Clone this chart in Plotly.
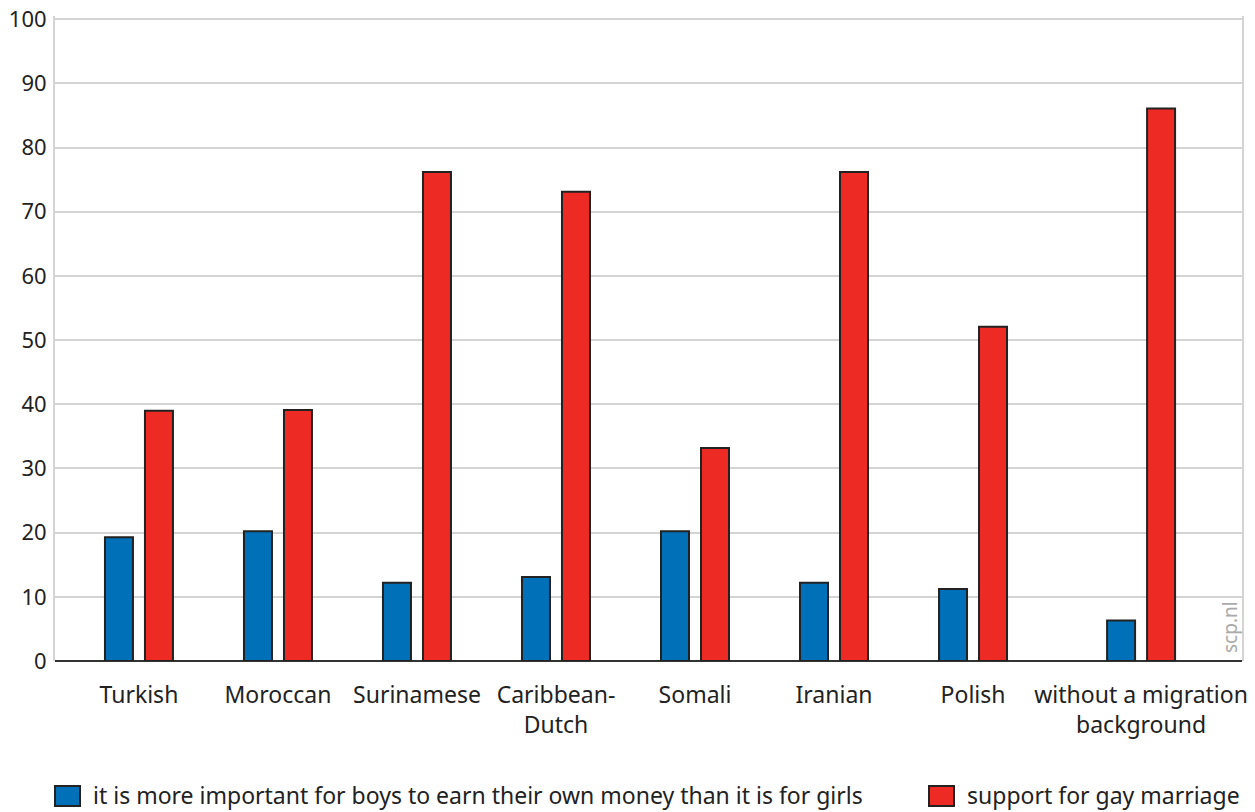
import plotly.graph_objects as go

categories = ["Turkish", "Moroccan", "Surinamese", "Caribbean-<br>Dutch", "Somali",
              "Iranian", "Polish", "without a migration<br>background"]
boys_money = [19.3, 20.2, 12.2, 13.1, 20.2, 12.2, 11.2, 6.3]
gay_marriage = [39.0, 39.1, 76.2, 73.1, 33.2, 76.2, 52.1, 86.1]
series_names = ["it is more important for boys to earn their own money than it is for girls",
                "support for gay marriage"]
series_colors = ["#0070b8", "#ee2a24"]
y_ticks = [0, 10, 20, 30, 40, 50, 60, 70, 80, 90, 100]

# layout: the last (reference) group is set slightly apart from the others
EXTRA_GAP = 0.209
slots = [i + (EXTRA_GAP if i == len(categories) - 1 else 0) for i in range(len(categories))]

FONT = "Noto Sans"
OFF = 8  # page body margin
Y_TOP = 100.5
W, H = 1255 - OFF, 812 - OFF
ML, MR, MB = 55 - OFF, 13, 151
MT = 19 - OFF - round((Y_TOP - 100) * 642 / 100)
PW, PH = W - ML - MR, H - MT - MB

def px_x(px):
    return (px - OFF - ML) / PW

def px_y(py):
    return (H - MB - (py - OFF)) / PH

fig = go.Figure()
for vals, name, col in zip([boys_money, gay_marriage], series_names, series_colors):
    fig.add_trace(go.Bar(x=slots, y=vals, name=name,
                         marker=dict(color=col, line=dict(color="#222222", width=2))))

fig.update_layout(
    width=W, height=H,
    margin=dict(l=ML, r=MR, t=MT, b=MB, autoexpand=False),
    paper_bgcolor="white", plot_bgcolor="white",
    barmode="group", bargap=0.4245, bargroupgap=0.3,
    font=dict(family=FONT, size=23, color="#222222"),
    showlegend=False,
    xaxis=dict(range=[-0.604, 7.935], tickvals=slots, ticktext=categories,
               showgrid=False, showline=False, zeroline=False, ticks="",
               ticklabelstandoff=18, tickfont=dict(size=23)),
    yaxis=dict(range=[0, Y_TOP], tickvals=y_ticks, showgrid=True, gridcolor="#d4d4d4",
               gridwidth=2, showline=True, linecolor="#d4d4d4", linewidth=2, mirror=True,
               zeroline=True, zerolinecolor="#333333", zerolinewidth=2,
               ticks="", ticklabelstandoff=2, ticklabeloverflow="allow",
               tickfont=dict(size=22)),
)

# manual legend
legend_items = [(55, series_names[0], series_colors[0]), (929, series_names[1], series_colors[1])]
for left, name, col in legend_items:
    fig.add_shape(type="rect", xref="paper", yref="paper",
                  x0=px_x(left), x1=px_x(left + 25), y0=px_y(806), y1=px_y(786),
                  fillcolor=col, line=dict(color="#222222", width=2))
    fig.add_annotation(text=name, xref="paper", yref="paper", x=px_x(left + 36), y=px_y(795),
                       xanchor="left", yanchor="middle", showarrow=False,
                       font=dict(family=FONT, size=23, color="#222222"))

fig.add_annotation(text="scp.nl", xref="paper", yref="paper", x=px_x(1230), y=px_y(627),
                   xanchor="center", yanchor="middle", textangle=-90, showarrow=False,
                   font=dict(family=FONT, size=19, color="#aaaaaa"))
fig.write_html("out.html")
